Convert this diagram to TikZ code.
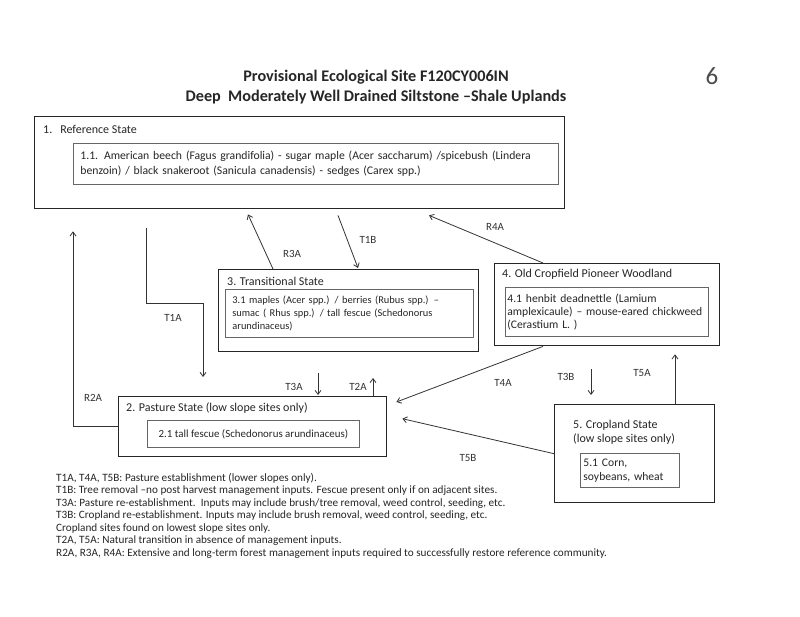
\documentclass[tikz,border=0pt]{standalone}
\usepackage{fontspec}
\setmainfont{Carlito}
\usetikzlibrary{arrows.meta}
\tikzset{
  statebox/.style={draw=black!85, line width=1.4pt, anchor=north west, inner sep=0pt},
  innerbox/.style={draw=black!60, line width=0.8pt, anchor=north west, align=left,
    inner ysep=0pt, text=black!85},
  boxtitle/.style={anchor=west, inner sep=0pt, align=left, text=black!85,
    font=\fontsize{12}{13.5}\selectfont},
  lbl/.style={inner sep=0pt, text=black!80, font=\fontsize{11}{12}\selectfont},
  arr/.style={draw=black!80, line width=0.8pt, -{Straight Barb[length=4pt,width=6pt]}}
}
\begin{document}
\begin{tikzpicture}[x=1pt,y=-1pt]
  \useasboundingbox[fill=white] (0,0) rectangle (800,617);

  %% heading
  \node[align=center, text=black!85, font=\fontsize{16.2}{19.5}\selectfont\bfseries] (title) at (376,87)
    {Provisional Ecological Site F120CY006IN\\Deep\ \ Moderately Well Drained Siltstone –Shale Uplands};
  \node[text=black!70, font=\fontsize{25}{28}\selectfont] (pagenum) at (712,76) {6};

  %% 1. reference state
  \node[statebox, minimum width=530pt, minimum height=92pt] (ref) at (34,116) {};
  \node[boxtitle] (reftitle) at (43,129) {1.\hspace{8pt}Reference State};
  \node[innerbox, inner xsep=7pt, text width=471pt, minimum height=41pt,
        font=\fontsize{11.7}{14.5}\selectfont] (refin) at (73,143)
    {1.1. American beech (Fagus grandifolia) - sugar maple (Acer saccharum) /spicebush (Lindera\\
     benzoin) / black snakeroot (Sanicula canadensis) - sedges (Carex spp.)};

  %% 3. transitional state
  \node[statebox, minimum width=260pt, minimum height=82pt] (trans) at (218,269) {};
  \node[boxtitle] (transtitle) at (227,281) {3. Transitional State};
  \node[innerbox, inner xsep=7pt, text width=234pt, minimum height=48pt,
        font=\fontsize{10.4}{13.4}\selectfont] (transin) at (225,289)
    {3.1 maples (Acer spp.) / berries (Rubus spp.) –\\
     sumac ( Rhus spp.) / tall fescue (Schedonorus\\
     arundinaceus)};

  %% 4. old cropfield
  \node[statebox, minimum width=225pt, minimum height=82pt] (wood) at (494,263) {};
  \node[boxtitle] (woodtitle) at (502,274) {4. Old Cropfield Pioneer Woodland};
  \node[innerbox, inner xsep=2pt, text width=199pt, minimum height=49pt,
        font=\fontsize{11.6}{13.2}\selectfont] (woodin) at (505,287)
    {4.1 henbit deadnettle (Lamium\\
     amplexicaule) – mouse-eared chickweed\\
     (Cerastium L. )};

  %% 2. pasture state
  \node[statebox, minimum width=268pt, minimum height=60pt] (past) at (118,396) {};
  \node[boxtitle] (pasttitle) at (126,408) {2. Pasture State (low slope sites only)};
  \node[innerbox, inner xsep=0pt, minimum width=212pt, minimum height=27pt,
        font=\fontsize{10.9}{13}\selectfont] (pastin) at (147,420)
    {2.1 tall fescue (Schedonorus arundinaceus)};

  %% 5. cropland state
  \node[statebox, minimum width=160pt, minimum height=98pt] (crop) at (554,404) {};
  \node[boxtitle, anchor=north west] (croptitle) at (573,420) {5. Cropland State\\(low slope sites only)};
  \node[innerbox, inner xsep=3pt, text width=93pt, minimum height=34pt,
        font=\fontsize{11.6}{14}\selectfont] (cropin) at (580,453)
    {5.1 Corn,\\ soybeans, wheat};

  %% transitions
  \draw[arr] ([xshift=55pt]trans.north west) -- ([xshift=214pt,yshift=-5pt]ref.south west);
  \draw[arr] ([xshift=304pt,yshift=-6pt]ref.south west) -- ([xshift=140pt,yshift=1pt]trans.north west);
  \draw[arr] ([xshift=49pt]wood.north west) -- ([xshift=395pt,yshift=-6pt]ref.south west);
  \draw[arr] ([xshift=112pt,yshift=-19pt]ref.south west) -- ++(0,75) -| ([xshift=85pt,yshift=19pt]past.north west);
  \draw[arr] (past.west) -| ([xshift=39pt,yshift=-22pt]ref.south west);
  \draw[arr] ([xshift=200pt,yshift=23pt]past.north west) -- ([xshift=200pt,yshift=1pt]past.north west);
  \draw[arr] ([xshift=255pt]past.north west) -- ([xshift=255pt,yshift=18pt]past.north west);
  \draw[arr] ([xshift=49pt]wood.south west) -- ([xshift=9pt,yshift=-6pt]past.north east);
  \draw[arr] (crop.west) -- ([xshift=15pt,yshift=8pt]past.east);
  \draw[arr] ([xshift=97pt,yshift=-23pt]wood.south west) -- ([xshift=37pt,yshift=9pt]crop.north west);
  \draw[arr] ([xshift=121pt]crop.north west) -- ([xshift=181pt,yshift=-8pt]wood.south west);

  %% labels
  \node[lbl] (lr3a) at (292,254) {R3A};
  \node[lbl] (lt1b) at (368,240) {T1B};
  \node[lbl] (lr4a) at (495,227) {R4A};
  \node[lbl] (lt1a) at (173,318) {T1A};
  \node[lbl] (lr2a) at (93,398) {R2A};
  \node[lbl] (lt3a) at (294,387) {T3A};
  \node[lbl] (lt2a) at (358,387) {T2A};
  \node[lbl] (lt4a) at (503,383) {T4A};
  \node[lbl] (lt3b) at (566,377) {T3B};
  \node[lbl] (lt5a) at (642,373) {T5A};
  \node[lbl] (lt5b) at (468,458) {T5B};

  %% notes
  \node[anchor=north west, inner sep=0pt, align=left, text=black!85,
        font=\fontsize{11.2}{12.5}\selectfont] (notes) at (56,473)
    {T1A, T4A, T5B: Pasture establishment (lower slopes only).\\
     T1B: Tree removal –no post harvest management inputs. Fescue present only if on adjacent sites.\\
     T3A: Pasture re-establishment.\ \ Inputs may include brush/tree removal, weed control, seeding, etc.\\
     T3B: Cropland re-establishment. Inputs may include brush removal, weed control, seeding, etc.\\
     Cropland sites found on lowest slope sites only.\\
     T2A, T5A: Natural transition in absence of management inputs.\\
     R2A, R3A, R4A: Extensive and long-term forest management inputs required to successfully restore reference community.};
\end{tikzpicture}
\end{document}
